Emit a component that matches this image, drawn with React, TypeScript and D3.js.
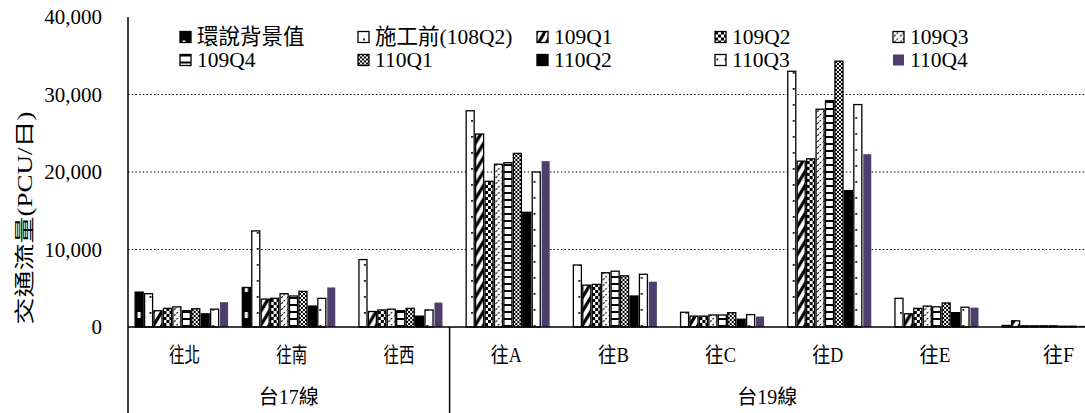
import React from 'react';
import * as d3 from 'd3';

const categories = ['往北', '往南', '往西', '往A', '往B', '往C', '往D', '往E', '往F'];
const groupNames = ['台17線', '台19線'];
const groupCounts = [3, 6];
const seriesNames = ['環說背景值', '施工前(108Q2)', '109Q1', '109Q2', '109Q3', '109Q4', '110Q1', '110Q2', '110Q3', '110Q4'];

const envBackground = [4500, 5100, 0, 0, 0, 0, 0, 0, 0];
const preConstruction = [4300, 12400, 8700, 27900, 8000, 1900, 33000, 3700, 200];
const q109_1 = [2100, 3600, 2000, 24900, 5400, 1400, 21400, 1700, 800];
const q109_2 = [2400, 3700, 2200, 18800, 5500, 1400, 21700, 2400, 150];
const q109_3 = [2600, 4300, 2300, 21000, 7000, 1550, 28100, 2700, 150];
const q109_4 = [2100, 4000, 2100, 21200, 7200, 1550, 29200, 2600, 150];
const q110_1 = [2350, 4600, 2400, 22400, 6600, 1850, 34300, 3100, 150];
const q110_2 = [1700, 2700, 1400, 14800, 4000, 1000, 17600, 1850, 100];
const q110_3 = [2300, 3700, 2200, 20000, 6800, 1600, 28700, 2550, 100];
const q110_4 = [3200, 5100, 3150, 21400, 5850, 1350, 22300, 2500, 150];

const seriesValues = [envBackground, preConstruction, q109_1, q109_2, q109_3, q109_4, q110_1, q110_2, q110_3, q110_4];
const yTicks = [0, 10000, 20000, 30000, 40000];

const W = 1085;
const H = 413;
const PURPLE = '#4f3e6b';
const FONT = '"Liberation Serif", "Times New Roman", "Noto Sans CJK TC", serif';

function patternBody(s: number): { w: number; h: number; bg: string; el: React.ReactNode } {
  switch (s) {
    case 0:
      return { w: 8, h: 26, bg: '#000', el: <rect x={2.5} y={9} width={3} height={6} fill="#fff" /> };
    case 1:
      return { w: 8, h: 16, bg: '#fff', el: <rect x={5} y={7} width={1.8} height={1.8} fill="#000" /> };
    case 2:
      return {
        w: 8, h: 14, bg: '#fff',
        el: <g stroke="#000" strokeWidth={3.2}><line x1={-2} y1={17} x2={10} y2={-3} /><line x1={-2} y1={31} x2={10} y2={11} /><line x1={-2} y1={3} x2={10} y2={-17} /></g>,
      };
    case 3:
      return {
        w: 6, h: 6, bg: '#fff',
        el: <g fill="#000"><rect x={0} y={0} width={3} height={3} /><rect x={3} y={3} width={3} height={3} /></g>,
      };
    case 4:
      return {
        w: 6, h: 6, bg: '#fff',
        el: <g stroke="#000" strokeWidth={1.1} strokeDasharray="2 1.2"><line x1={-1} y1={7} x2={7} y2={-1} /></g>,
      };
    case 5:
      return { w: 8, h: 7, bg: '#fff', el: <rect x={0} y={0} width={8} height={2} fill="#000" /> };
    case 6:
      return {
        w: 4, h: 4, bg: '#fff',
        el: <g fill="#000"><rect x={0} y={0} width={2} height={2} /><rect x={2} y={2} width={2} height={2} /></g>,
      };
    case 7:
      return { w: 8, h: 8, bg: '#000', el: null };
    case 8:
      return { w: 8, h: 16, bg: '#fff', el: <rect x={1.5} y={4} width={1.8} height={1.8} fill="#000" /> };
    default:
      return { w: 8, h: 8, bg: PURPLE, el: null };
  }
}

function Pattern({ id, s, x, y }: { id: string; s: number; x: number; y: number }) {
  const p = patternBody(s);
  return (
    <pattern id={id} patternUnits="userSpaceOnUse" x={x} y={y} width={p.w} height={p.h}>
      <rect x={0} y={0} width={p.w} height={p.h} fill={p.bg} />
      {p.el}
    </pattern>
  );
}

export default function App() {
  const left = 128;
  const top = 17;
  const bottom = 327;
  const groupW = 107.2;

  const x0 = d3.scaleBand<string>().domain(categories).range([left, left + groupW * categories.length]).paddingInner(0).paddingOuter(0);
  const x1 = d3.scaleBand<string>().domain(seriesNames).range([0, groupW]).paddingInner(0.15).paddingOuter(0.755);
  const y = d3.scaleLinear().domain([0, 40000]).range([bottom, top]);
  const fmt = d3.format(',');

  const bars: React.ReactNode[] = [];
  const defs: React.ReactNode[] = [];
  seriesValues.forEach((vals, s) => {
    vals.forEach((v, c) => {
      if (!v) return;
      const bx = (x0(categories[c]) as number) + (x1(seriesNames[s]) as number);
      const bw = x1.bandwidth();
      const by = y(v);
      const id = `p-${s}-${c}`;
      defs.push(<Pattern key={id} id={id} s={s} x={bx} y={top} />);
      const outlined = s !== 9;
      bars.push(
        <rect key={'b' + id} x={bx} y={by} width={bw} height={bottom - by} fill={`url(#${id})`}
          stroke={outlined ? '#000' : 'none'} strokeWidth={1.3} />
      );
    });
  });

  // legend
  const legendCols = [180, 358, 537, 715, 893];
  const legendRows = [37, 60];
  const sw = 11;
  const legendItems = seriesNames.map((name, s) => {
    const cx = legendCols[s % 5];
    const cy = legendRows[Math.floor(s / 5)];
    const id = `lg-${s}`;
    defs.push(<Pattern key={id} id={id} s={s} x={cx} y={cy - sw / 2} />);
    return (
      <g key={id}>
        <rect x={cx} y={cy - sw / 2} width={sw} height={sw} fill={`url(#${id})`} stroke={s === 9 ? 'none' : '#000'} strokeWidth={1.3} />
        <text x={cx + sw + 6} y={cy} dominantBaseline="central" fontSize={21.5} fontFamily={FONT}>{name}</text>
      </g>
    );
  });

  // group label spans
  let acc = 0;
  const groupSpans = groupCounts.map((n, i) => {
    const start = x0(categories[acc]) as number;
    const endCat = categories[acc + n - 1];
    const end = Math.min((x0(endCat) as number) + x0.bandwidth(), W);
    acc += n;
    return { name: groupNames[i], start, end };
  });

  return (
    <svg width={W} height={H} style={{ position: 'absolute', left: 0, top: 0, background: '#fff' }}>
      <defs>{defs}</defs>
      <rect x={0} y={0} width={W} height={H} fill="#fff" />
      {yTicks.filter((t) => t > 0 && t < 40000).map((t) => (
        <line key={'g' + t} x1={left} x2={W} y1={y(t)} y2={y(t)} stroke="#000" strokeWidth={1.2} strokeDasharray="1.5 2.2" />
      ))}
      {yTicks.map((t) => (
        <text key={'t' + t} x={102} y={y(t)} textAnchor="end" dominantBaseline="central" fontSize={21} fontFamily={FONT}>{fmt(t)}</text>
      ))}
      <text transform={`translate(25,218) rotate(-90)`} textAnchor="middle" dominantBaseline="central" fontSize={20}
        fill="#000" fontFamily={FONT} textLength={213} lengthAdjust="spacingAndGlyphs">交通流量(PCU/日)</text>
      {bars}
      <line x1={left} x2={left} y1={top} y2={H} stroke="#000" strokeWidth={1.5} />
      <line x1={left} x2={W} y1={bottom} y2={bottom} stroke="#000" strokeWidth={1.5} />
      {groupSpans.slice(1).map((g) => (
        <line key={'d' + g.name} x1={g.start} x2={g.start} y1={bottom} y2={H} stroke="#000" strokeWidth={1.5} />
      ))}
      {categories.map((c, i) => {
        const bx = x0(c) as number;
        const cx = i === categories.length - 1 ? (bx + 0.68 * x0.bandwidth()) : bx + x0.bandwidth() / 2 + 3;
        return (
          <text key={'c' + c} x={cx} y={355} textAnchor="middle" dominantBaseline="central" fontSize={21}
            fontFamily={FONT} textLength={31} lengthAdjust="spacingAndGlyphs">{c}</text>
        );
      })}
      {groupSpans.map((g) => (
        <text key={'gl' + g.name} x={(g.start + g.end) / 2} y={397} textAnchor="middle" dominantBaseline="central"
          fontSize={20} fontFamily={FONT}>{g.name}</text>
      ))}
      {legendItems}
    </svg>
  );
}
